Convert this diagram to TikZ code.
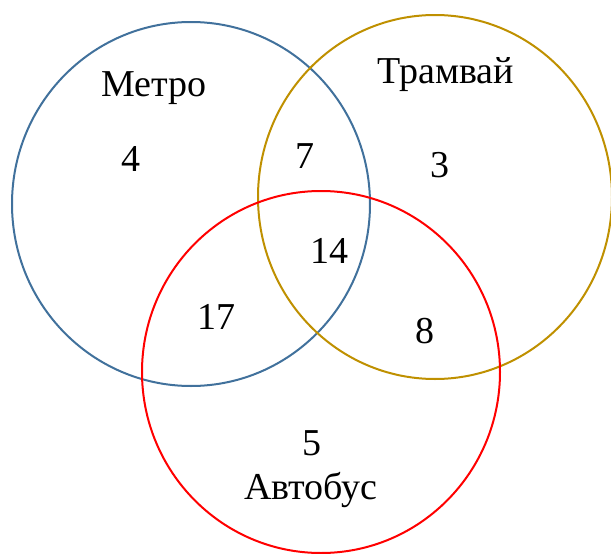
\documentclass[tikz,border=0pt]{standalone}
\usepackage{fontspec}
\setmainfont{Liberation Serif}
\begin{document}
\begin{tikzpicture}[x=1pt,y=-1pt,
  ring/.style={line width=2pt},
  lbl/.style={anchor=base,inner sep=0pt,font=\fontsize{38}{45}\selectfont}]
\definecolor{metroblue}{RGB}{65,113,156}
\definecolor{tramgold}{RGB}{191,144,0}
\definecolor{busred}{RGB}{255,0,0}
\useasboundingbox (0,0) rectangle (611,554);
% the three sets
\draw[ring,metroblue] (191,204) ellipse [x radius=179, y radius=182];
\draw[ring,tramgold] (435,197) ellipse [x radius=177, y radius=182];
\draw[ring,busred] (321,372) ellipse [x radius=179, y radius=181];
% set names
\node[lbl] (metro) at (154,96) {Метро};
\node[lbl] (tram) at (446,83) {Трамвай};
\node[lbl] (bus) at (311,499) {Автобус};
% region counts
\node[lbl] (n4) at (131,171) {4};
\node[lbl] (n7) at (305,168) {7};
\node[lbl] (n3) at (440,177) {3};
\node[lbl] (n14) at (329,263) {14};
\node[lbl] (n17) at (216,329) {17};
\node[lbl] (n8) at (425,343) {8};
\node[lbl] (n5) at (312,455) {5};
\end{tikzpicture}
\end{document}
